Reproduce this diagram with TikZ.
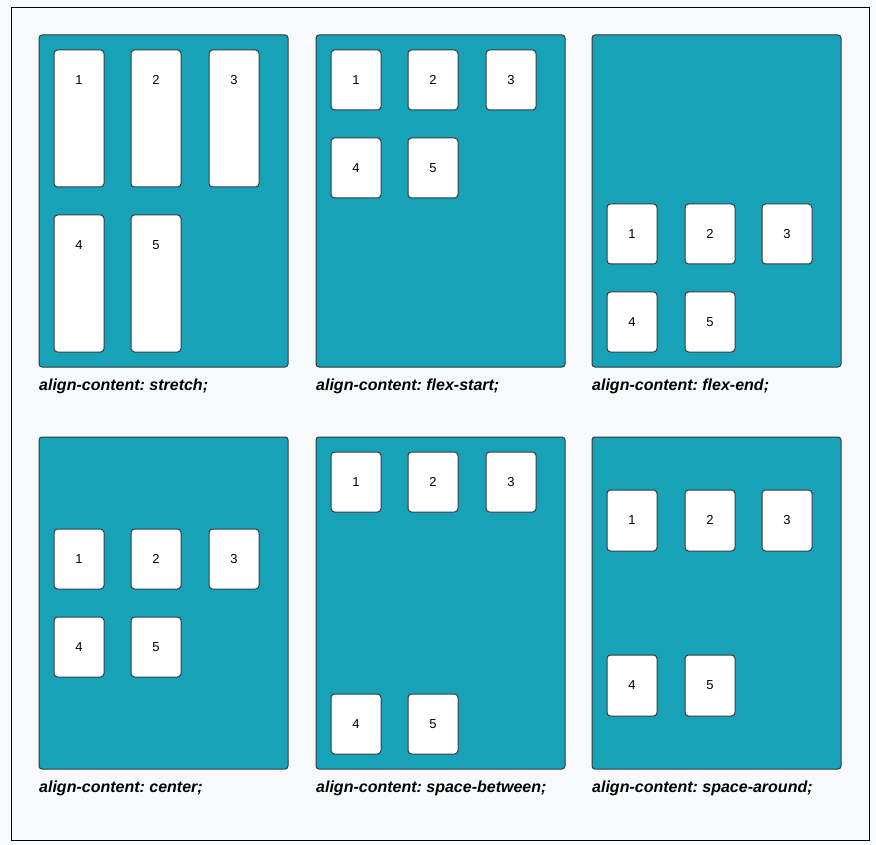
\documentclass[tikz,border=0pt]{standalone}
\usepackage{fontspec}
\setmainfont{Liberation Sans}
\frenchspacing
\definecolor{bgc}{HTML}{F8F9FA}
\definecolor{panelc}{HTML}{17A2B8}
\definecolor{edgec}{HTML}{343A40}
\begin{document}
\begin{tikzpicture}[x=1pt,y=-1pt,
  panel/.style={draw=edgec,line width=1pt,fill=panelc,rounded corners=3pt,anchor=north west,minimum width=249pt,minimum height=332pt,inner sep=0pt,outer sep=0pt},
  item/.style={draw=edgec,line width=1pt,fill=white,rounded corners=3.5pt,anchor=north west,minimum width=50pt,inner sep=0pt,outer sep=0pt},
  num/.style={font=\fontsize{13}{15}\selectfont,inner sep=0pt,anchor=center},
  captxt/.style={font=\fontsize{16}{18}\selectfont\bfseries\itshape,inner sep=0pt,anchor=base west}]
\useasboundingbox (0,0) rectangle (876,845);
\fill[bgc] (0,0) rectangle (876,845);
\node[draw=black,line width=1pt,fill=bgc,anchor=north west,minimum width=858pt,minimum height=833pt,inner sep=0pt] (frame) at (11,7) {};

% panel 1: stretch
\node[panel] (p1) at (39,35) {};
\node[item,minimum height=137pt] (a1) at (54,50) {};
\node[item,minimum height=137pt] (a2) at (131,50) {};
\node[item,minimum height=137pt] (a3) at (209,50) {};
\node[item,minimum height=137pt] (a4) at (54,215) {};
\node[item,minimum height=137pt] (a5) at (131,215) {};
\foreach \i in {1,...,5} \node[num] (an\i) at ([yshift=-30pt]a\i.north) {\i};
\node[captxt] (c1) at (39,390) {align-content: stretch;};

% panel 2: flex-start
\node[panel] (p2) at (316,35) {};
\node[item,minimum height=60pt] (b1) at (331,50) {};
\node[item,minimum height=60pt] (b2) at (408,50) {};
\node[item,minimum height=60pt] (b3) at (486,50) {};
\node[item,minimum height=60pt] (b4) at (331,138) {};
\node[item,minimum height=60pt] (b5) at (408,138) {};
\foreach \i in {1,...,5} \node[num] (bn\i) at ([yshift=-30pt]b\i.north) {\i};
\node[captxt] (c2) at (316,390) {align-content: flex-start;};

% panel 3: flex-end
\node[panel] (p3) at (592,35) {};
\node[item,minimum height=60pt] (d1) at (607,204) {};
\node[item,minimum height=60pt] (d2) at (685,204) {};
\node[item,minimum height=60pt] (d3) at (762,204) {};
\node[item,minimum height=60pt] (d4) at (607,292) {};
\node[item,minimum height=60pt] (d5) at (685,292) {};
\foreach \i in {1,...,5} \node[num] (dn\i) at ([yshift=-30pt]d\i.north) {\i};
\node[captxt] (c3) at (592,390) {align-content: flex-end;};

% panel 4: center
\node[panel] (p4) at (39,437) {};
\node[item,minimum height=60pt] (e1) at (54,529) {};
\node[item,minimum height=60pt] (e2) at (131,529) {};
\node[item,minimum height=60pt] (e3) at (209,529) {};
\node[item,minimum height=60pt] (e4) at (54,617) {};
\node[item,minimum height=60pt] (e5) at (131,617) {};
\foreach \i in {1,...,5} \node[num] (en\i) at ([yshift=-30pt]e\i.north) {\i};
\node[captxt] (c4) at (39,792) {align-content: center;};

% panel 5: space-between
\node[panel] (p5) at (316,437) {};
\node[item,minimum height=60pt] (f1) at (331,452) {};
\node[item,minimum height=60pt] (f2) at (408,452) {};
\node[item,minimum height=60pt] (f3) at (486,452) {};
\node[item,minimum height=60pt] (f4) at (331,694) {};
\node[item,minimum height=60pt] (f5) at (408,694) {};
\foreach \i in {1,...,5} \node[num] (fn\i) at ([yshift=-30pt]f\i.north) {\i};
\node[captxt] (c5) at (316,792) {align-content: space-between;};

% panel 6: space-around
\node[panel] (p6) at (592,437) {};
\node[item,minimum height=61pt] (g1) at (607,490) {};
\node[item,minimum height=61pt] (g2) at (685,490) {};
\node[item,minimum height=61pt] (g3) at (762,490) {};
\node[item,minimum height=61pt] (g4) at (607,655) {};
\node[item,minimum height=61pt] (g5) at (685,655) {};
\foreach \i in {1,...,5} \node[num] (gn\i) at ([yshift=-30pt]g\i.north) {\i};
\node[captxt] (c6) at (592,792) {align-content: space-around;};
\end{tikzpicture}
\end{document}
